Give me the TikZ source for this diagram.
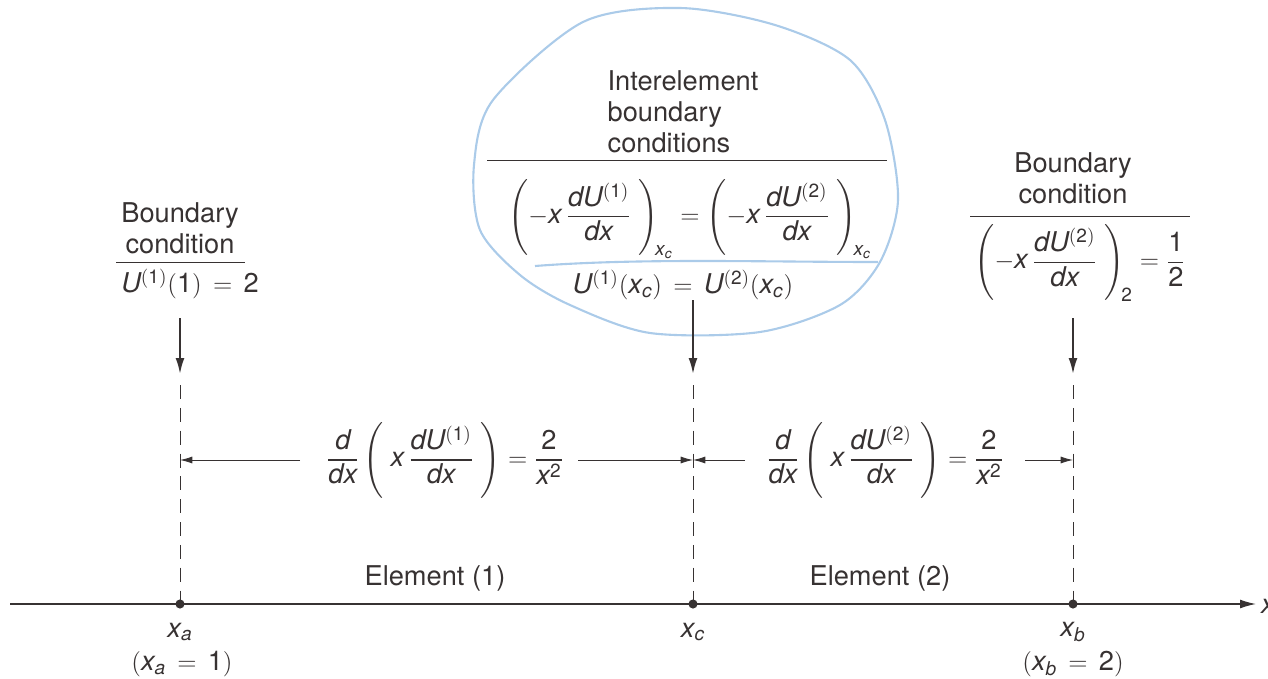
\documentclass[tikz,border=0pt]{standalone}
\usepackage{amsmath}
\usepackage{mathspec}
\setmainfont{TeX Gyre Heros}
\setmathsfont(Digits,Latin){TeX Gyre Heros}
\usetikzlibrary{arrows.meta, positioning, calc}
\definecolor{inkgray}{RGB}{55,50,50}
\definecolor{penblue}{RGB}{150,190,228}

\begin{document}
\begin{tikzpicture}[
    x=0.02cm, y=-0.02cm,
    every node/.style={text=inkgray, font=\fontsize{15.5}{17.5}\selectfont},
    lbl/.style={align=center, inner sep=1pt},
    rule/.style={draw=inkgray, line width=0.5pt},
    guide/.style={draw=inkgray, line width=0.5pt, dash pattern=on 8pt off 5pt},
    load/.style={draw=inkgray, line width=1.1pt, -{Latex[length=9pt, width=5pt]}},
    dim/.style={draw=inkgray, line width=0.5pt, -{Latex[length=7pt, width=4pt]}},
    axis/.style={draw=inkgray, line width=0.7pt, -{Latex[length=9pt, width=5pt]}},
    knot/.style={fill=inkgray},
    pen/.style={draw=penblue, line width=1.2pt, opacity=0.8},
]
    \useasboundingbox (0,0) rectangle (1268,679);

    % the pen mark round the interelement conditions
    \draw[pen] plot[smooth cycle] coordinates {(493,100) (583,22) (680,8) (775,25)
        (850,60) (885,120) (898,200) (880,262) (840,305) (760,332) (650,333)
        (570,305) (520,275) (480,230) (474,165)};
    \draw[pen] (535,266) .. controls (640,258) and (760,262) .. (878,262);

    % nodes of the two elements
    \coordinate (xa) at (180,604);
    \coordinate (xc) at (693,604);
    \coordinate (xb) at (1073,604);
    \coordinate (axl) at (10,604);
    \coordinate (axr) at (1256,604);
    \draw[axis] (axl) -- (axr);
    \node (xlab) at (1268,606) {$x$};
    \foreach \p in {xa,xc,xb} \fill[knot] (\p) circle (2.6pt);

    \node (lxa) at (180,632) {$x_a$};
    \node (lxc) at (693,632) {$x_c$};
    \node (lxb) at (1073,632) {$x_b$};
    \node (vxa) at (182,664) {$(x_a\,=\,1)$};
    \node (vxb) at (1073,664) {$(x_b\,=\,2)$};
    \node (el1) at (435,578) {Element (1)};
    \node (el2) at (880,578) {Element (2)};

    % boundary guides
    \coordinate (ga) at (180,385);
    \coordinate (gc) at (693,385);
    \coordinate (gb) at (1073,385);
    \draw[guide] (ga) -- (xa);
    \draw[guide] (gc) -- (xc);
    \draw[guide] (gb) -- (xb);

    % governing equations
    \node (de1) at (445,460) {$\dfrac{d}{dx}\left(\;x\,\dfrac{dU^{(1)}}{dx}\;\right) = \dfrac{2}{x^2}$};
    \node (de2) at (885,460) {$\dfrac{d}{dx}\left(\;x\,\dfrac{dU^{(2)}}{dx}\;\right) = \dfrac{2}{x^2}$};
    \coordinate (da) at (180,460);
    \coordinate (dc) at (693,460);
    \coordinate (db) at (1073,460);
    \coordinate (d1l) at (300,460);
    \coordinate (d1r) at (578,460);
    \coordinate (d2l) at (745,460);
    \coordinate (d2r) at (1025,460);
    \draw[dim] (d1l) -- (da);
    \draw[dim] (d1r) -- (dc);
    \draw[dim] (d2l) -- (dc);
    \draw[dim] (d2r) -- (db);

    % left boundary condition
    \node[lbl] (bcl) at (180,228) {Boundary\\condition};
    \draw[rule] (116,262) -- (245,262);
    \node (bclv) at (190,284) {$U^{(1)}(1)\,=\,2$};
    \coordinate (al) at (180,318);
    \coordinate (alt) at (180,374);
    \draw[load] (al) -- (alt);

    % interelement conditions
    \node[align=left, inner sep=1pt] (ibc) at (683,112) {Interelement\\boundary\\conditions};
    \draw[rule] (487,160) -- (887,160);
    \node (ibcf) at (690,219) {$\left(-x\,\dfrac{dU^{(1)}}{dx}\;\right)_{\!x_c} = \left(-x\,\dfrac{dU^{(2)}}{dx}\;\right)_{\!x_c}$};
    \node (ibcu) at (683,285) {$U^{(1)}(x_c)\,=\,U^{(2)}(x_c)$};
    \coordinate (ac) at (693,300);
    \coordinate (act) at (693,374);
    \draw[load] (ac) -- (act);

    % right boundary condition
    \node[lbl] (bcr) at (1073,178) {Boundary\\condition};
    \draw[rule] (970,216) -- (1190,216);
    \node (bcrv) at (1080,263) {$\left(-x\,\dfrac{dU^{(2)}}{dx}\;\right)_{\!2} = \dfrac{1}{2}$};
    \coordinate (ar) at (1073,318);
    \coordinate (art) at (1073,374);
    \draw[load] (ar) -- (art);
\end{tikzpicture}
\end{document}
